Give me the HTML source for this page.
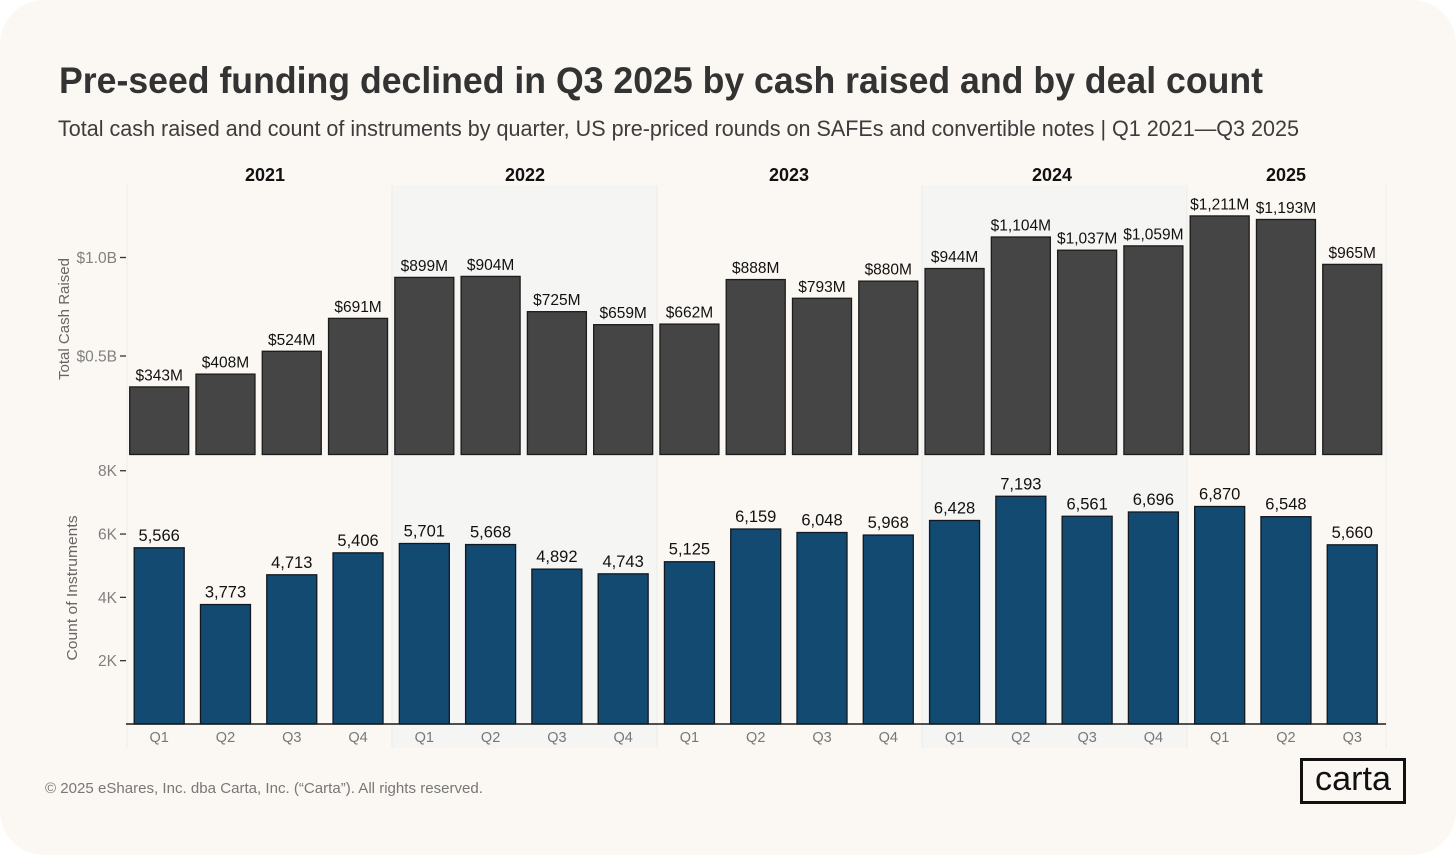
<!DOCTYPE html>
<html lang="en">
<head>
<meta charset="utf-8">
<title>Pre-seed funding chart</title>
<style>
  html, body { margin: 0; padding: 0; background: #ffffff; }
  svg { display: block; font-family: "Liberation Sans", sans-serif; }
</style>
</head>
<body>
<svg id="chart" xmlns="http://www.w3.org/2000/svg" width="1456" height="855" viewBox="0 0 1456 855">
  <rect x="0" y="0" width="1456" height="855" rx="44" fill="#fbf8f3"/>
  <text x="59" y="93" font-size="37" font-weight="700" fill="#333333" textLength="1204" lengthAdjust="spacingAndGlyphs">Pre-seed funding declined in Q3 2025 by cash raised and by deal count</text>
  <text x="58" y="136" font-size="22" fill="#3c3c3c" textLength="1241" lengthAdjust="spacingAndGlyphs">Total cash raised and count of instruments by quarter, US pre-priced rounds on SAFEs and convertible notes | Q1 2021—Q3 2025</text>

  <rect x="392" y="185" width="265" height="563" fill="#f5f5f4"/>
  <rect x="922" y="185" width="265" height="563" fill="#f5f5f4"/>
  <g stroke="#ecebe8" stroke-width="1">
    <line x1="127" x2="127" y1="185" y2="748"/>
    <line x1="392" x2="392" y1="185" y2="748"/>
    <line x1="657" x2="657" y1="185" y2="748"/>
    <line x1="922" x2="922" y1="185" y2="748"/>
    <line x1="1187" x2="1187" y1="185" y2="748"/>
    <line x1="1386" x2="1386" y1="185" y2="748"/>
  </g>

  <g font-size="18" font-weight="700" fill="#111111" text-anchor="middle">
    <text x="265" y="181">2021</text>
    <text x="525" y="181">2022</text>
    <text x="789" y="181">2023</text>
    <text x="1052" y="181">2024</text>
    <text x="1286" y="181">2025</text>
  </g>

  <text transform="translate(69 319) rotate(-90)" font-size="14.5" fill="#666666" text-anchor="middle" textLength="122" lengthAdjust="spacingAndGlyphs">Total Cash Raised</text>
  <text transform="translate(77 588) rotate(-90)" font-size="14.5" fill="#666666" text-anchor="middle" textLength="145" lengthAdjust="spacingAndGlyphs">Count of Instruments</text>

  <g id="cash-ticks"></g>
  <g id="count-ticks"></g>
  <g id="cash-bars"></g>
  <g id="count-bars"></g>
  <line x1="126" x2="1386" y1="724" y2="724" stroke="#1a1a1a" stroke-width="1.5"/>
  <g id="quarters"></g>

  <text x="45" y="793" font-size="15" fill="#777777" textLength="438" lengthAdjust="spacingAndGlyphs">© 2025 eShares, Inc. dba Carta, Inc. (“Carta”). All rights reserved.</text>
  <g>
    <rect x="1301.5" y="759.5" width="103" height="43" fill="none" stroke="#111111" stroke-width="3"/>
    <text x="1315" y="790" font-size="34" fill="#111111" textLength="76" lengthAdjust="spacingAndGlyphs">carta</text>
  </g>
</svg>
<script>
const quarters = ["Q1","Q2","Q3","Q4","Q1","Q2","Q3","Q4","Q1","Q2","Q3","Q4","Q1","Q2","Q3","Q4","Q1","Q2","Q3"];
const cashRaised = [343,408,524,691,899,904,725,659,662,888,793,880,944,1104,1037,1059,1211,1193,965];
const instrumentCount = [5566,3773,4713,5406,5701,5668,4892,4743,5125,6159,6048,5968,6428,7193,6561,6696,6870,6548,5660];
const cashTicks = [500,1000];
const cashTickLabels = ["$0.5B","$1.0B"];
const countTicks = [2000,4000,6000,8000];
const countTickLabels = ["2K","4K","6K","8K"];

const SVG_NS = "http://www.w3.org/2000/svg";
function xCenter(i) { return 159.2 + 66.28 * i; }
function yCash(v) { return 454.5 - 0.197 * v; }
function yCount(v) { return 724 - 0.03166 * v; }
function make(tag, parent, attrs, text) {
  const el = document.createElementNS(SVG_NS, tag);
  for (const k in attrs) el.setAttribute(k, attrs[k]);
  if (text !== undefined) el.textContent = text;
  parent.appendChild(el);
  return el;
}

const cashBarsG = document.getElementById("cash-bars");
cashRaised.forEach(function (v, i) {
  const top = yCash(v);
  const bar = make("rect", cashBarsG, { x: xCenter(i) - 29.5, y: top, width: 59, height: yCash(0) - top, fill: "#454545", stroke: "#1c1c1c", "stroke-width": 1.3 });
  
  
  const label = make("text", cashBarsG, { x: xCenter(i), y: top - 6.5, "font-size": 15.5, fill: "#111111", "text-anchor": "middle" }, "$" + v.toLocaleString("en-US") + "M");
  
  
});

const countBarsG = document.getElementById("count-bars");
instrumentCount.forEach(function (v, i) {
  const top = yCount(v);
  const bar = make("rect", countBarsG, { x: xCenter(i) - 25, y: top, width: 50, height: yCount(0) - top, fill: "#134a72", stroke: "#111820", "stroke-width": 1.3 });
  
  
  const label = make("text", countBarsG, { x: xCenter(i), y: top - 7, "font-size": 16.5, fill: "#111111", "text-anchor": "middle" }, v.toLocaleString("en-US"));
  
  
});

const cashTicksG = document.getElementById("cash-ticks");
cashTicks.forEach(function (v, i) {
  const y = yCash(v);
  const mark = make("line", cashTicksG, { x1: 120, x2: 126, y1: y, y2: y, stroke: "#333333", "stroke-width": 1.3 });
  
  
  const label = make("text", cashTicksG, { x: 117, y: y + 5.5, "font-size": 15.5, fill: "#808080", "text-anchor": "end" }, cashTickLabels[i]);
  
  
});

const countTicksG = document.getElementById("count-ticks");
countTicks.forEach(function (v, i) {
  const y = yCount(v);
  const mark = make("line", countTicksG, { x1: 120, x2: 126, y1: y, y2: y, stroke: "#333333", "stroke-width": 1.3 });
  
  
  const label = make("text", countTicksG, { x: 117, y: y + 5.5, "font-size": 15.5, fill: "#808080", "text-anchor": "end" }, countTickLabels[i]);
  
  
});

const quartersG = document.getElementById("quarters");
quarters.forEach(function (q, i) {
  const label = make("text", quartersG, { x: xCenter(i), y: 742, "font-size": 14.5, fill: "#777777", "text-anchor": "middle" }, q);
  
  
});
</script>
</body>
</html>
